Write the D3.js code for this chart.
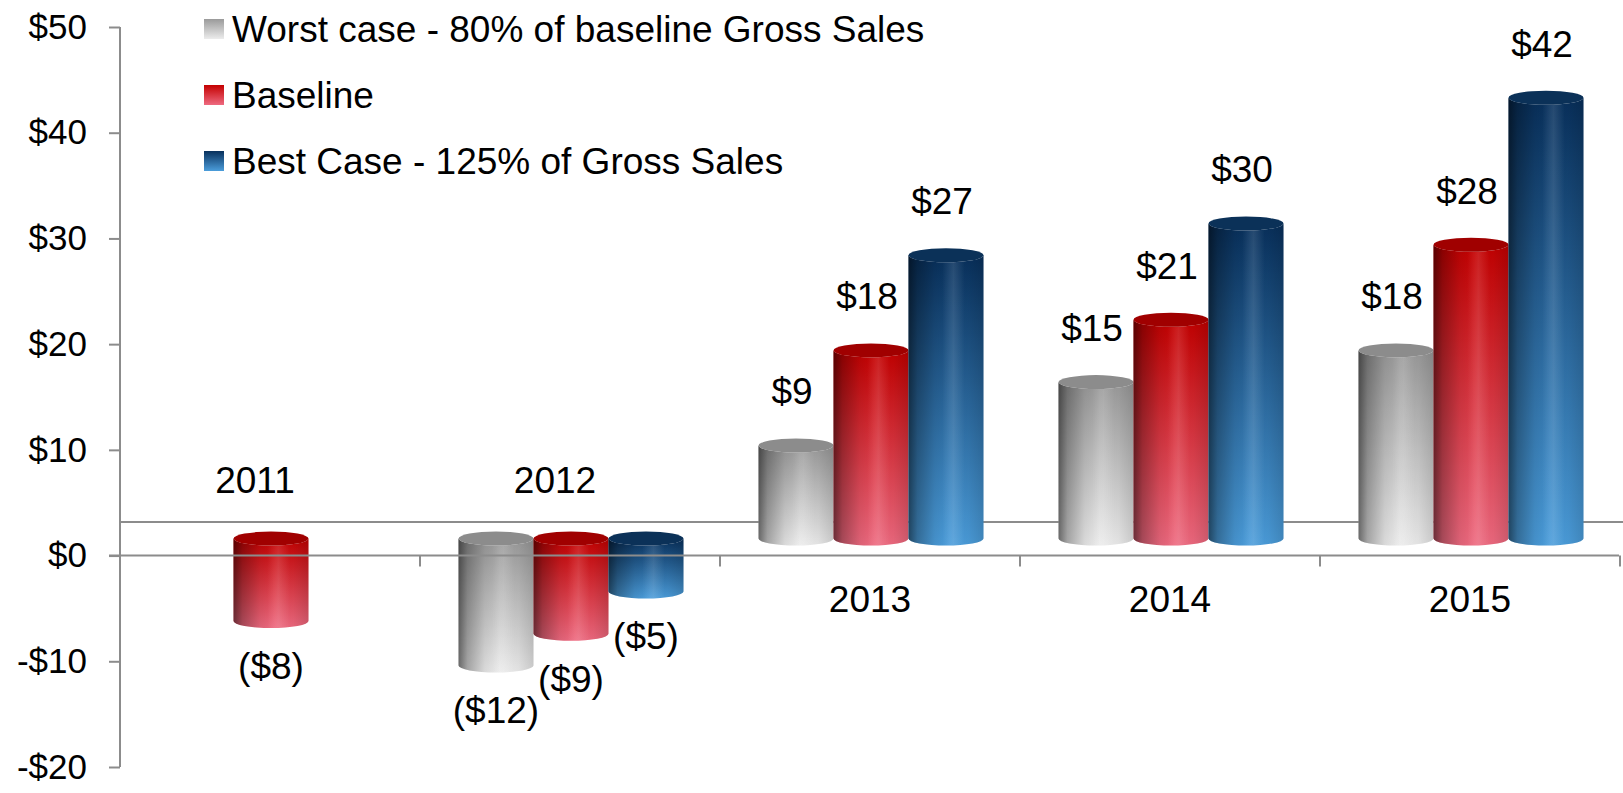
<!DOCTYPE html>
<html>
<head>
<meta charset="utf-8">
<script src="https://cdn.jsdelivr.net/npm/d3@7"></script>
<style>
  body { margin: 0; background: #fff; }
  svg { display: block; font-family: "Liberation Sans", Arial, sans-serif; }
</style>
</head>
<body>
<svg id="chart" width="1623" height="793"></svg>
<script>
// chart data
var categories = ["2011", "2012", "2013", "2014", "2015"];
var seriesNames = ["Worst case - 80% of baseline Gross Sales", "Baseline", "Best Case - 125% of Gross Sales"];
var worstCase = [null, -12.0, 8.8, 14.8, 17.8];
var baseline = [-7.8, -9.0, 17.8, 20.7, 27.8];
var bestCase = [null, -5.0, 26.8, 29.8, 41.7];
var yTicks = [-20, -10, 0, 10, 20, 30, 40, 50];

var seriesValues = [worstCase, baseline, bestCase];

// colours: body top, body bottom, cap
var palette = [
  { top: "#9a9a9a", bottom: "#ececec", cap: "#8c8c8c" },
  { top: "#c40000", bottom: "#ee6a80", cap: "#a00000" },
  { top: "#08305c", bottom: "#4b9ddb", cap: "#0b3158" }
];

var svg = d3.select("#chart");
var defs = svg.append("defs");

var y = d3.scaleLinear().domain([-20, 50]).range([767, 27]);
var x = d3.scaleBand().domain(categories).range([120, 1620]);
var x1 = d3.scaleBand().domain(d3.range(3)).range([0, x.bandwidth()]).paddingOuter(0.5);

var depth = 17;   // bars sit in the middle of the 3D floor
var ry = 7;
var labelSize = 37;
function barY(v) { return y(v) - depth; }

// gradients
palette.forEach(function(p, i) {
  var v = defs.append("linearGradient").attr("id", "body" + i)
      .attr("x1", 0).attr("y1", 0).attr("x2", 0).attr("y2", 1);
  v.append("stop").attr("offset", "0%").attr("stop-color", p.top);
  v.append("stop").attr("offset", "100%").attr("stop-color", p.bottom);
});

var shade = defs.append("linearGradient").attr("id", "shade")
    .attr("x1", 0).attr("y1", 0).attr("x2", 1).attr("y2", 0);
[[0, 0.55], [0.12, 0.3], [0.35, 0.08], [0.55, 0], [0.8, 0.04], [1, 0.14]].forEach(function(s) {
  shade.append("stop").attr("offset", s[0]).attr("stop-color", "#000").attr("stop-opacity", s[1]);
});
var shine = defs.append("linearGradient").attr("id", "shine")
    .attr("x1", 0).attr("y1", 0).attr("x2", 1).attr("y2", 0);
[[0, 0], [0.45, 0], [0.6, 0.12], [0.75, 0]].forEach(function(s) {
  shine.append("stop").attr("offset", s[0]).attr("stop-color", "#fff").attr("stop-opacity", s[1]);
});

var axisColor = "#8c8c8c";

// floor back edge
svg.append("line")
    .attr("x1", 120).attr("x2", 1623)
    .attr("y1", y(0) - 2 * depth + 0.5).attr("y2", y(0) - 2 * depth + 0.5)
    .attr("stroke", axisColor).attr("stroke-width", 2);

// y axis
var yAxis = d3.axisLeft(y).tickValues(yTicks).tickSize(11).tickPadding(22)
    .tickFormat(function(d) { return d < 0 ? "-$" + Math.abs(d) : "$" + d; });
var gy = svg.append("g").attr("transform", "translate(120,0)").call(yAxis);
gy.select(".domain").attr("stroke", axisColor).attr("stroke-width", 2).attr("d", "M0," + y(50) + "V" + y(-20));
gy.selectAll(".tick line").attr("stroke", axisColor).attr("stroke-width", 2);
gy.selectAll(".tick text").attr("font-size", 35).attr("fill", "#000")
    .attr("font-family", "Liberation Sans, Arial, sans-serif");

// cylinders
function cylPath(x0, w, yTop, yBot) {
  var rx = w / 2;
  return "M" + x0 + "," + yTop + " L" + x0 + "," + yBot +
    " A" + rx + "," + ry + " 0 0 0 " + (x0 + w) + "," + yBot +
    " L" + (x0 + w) + "," + yTop +
    " A" + rx + "," + ry + " 0 0 1 " + x0 + "," + yTop + " Z";
}

var bars = [];
categories.forEach(function(c, ci) {
  seriesValues.forEach(function(vals, si) {
    if (vals[ci] !== null) bars.push({ cat: c, s: si, v: vals[ci] });
  });
});

var w = x1.bandwidth();
var gBars = svg.append("g");
var bar = gBars.selectAll("g.bar").data(bars).enter().append("g").attr("class", "bar");

bar.each(function(d) {
  var g = d3.select(this);
  var x0 = x(d.cat) + x1(d.s) + 1;
  var yTop = barY(Math.max(0, d.v));
  var yBot = barY(Math.min(0, d.v));
  var path = cylPath(x0, w, yTop, yBot);
  g.append("path").attr("d", path).attr("fill", "url(#body" + d.s + ")");
  g.append("path").attr("d", path).attr("fill", "url(#shade)");
  g.append("path").attr("d", path).attr("fill", "url(#shine)");
  g.append("ellipse").attr("cx", x0 + w / 2).attr("cy", yTop)
      .attr("rx", w / 2).attr("ry", ry).attr("fill", palette[d.s].cap);
});

// zero line and category ticks, drawn over the bars
svg.append("line")
    .attr("x1", 109).attr("x2", 1619)
    .attr("y1", y(0)).attr("y2", y(0))
    .attr("stroke", axisColor).attr("stroke-width", 2);
svg.selectAll("line.ctick").data(categories).enter().append("line").attr("class", "ctick")
    .attr("x1", function(d) { return x(d) + x.bandwidth(); })
    .attr("x2", function(d) { return x(d) + x.bandwidth(); })
    .attr("y1", y(0)).attr("y2", y(0) + 11)
    .attr("stroke", axisColor).attr("stroke-width", 2);

// category labels: above the floor when the year is negative
function isNeg(i) {
  return seriesValues.some(function(s) { return s[i] !== null && s[i] < 0; });
}
svg.selectAll("text.cat").data(categories).enter().append("text").attr("class", "cat")
    .attr("x", function(d, i) { return x(d) + x.bandwidth() / 2 + (isNeg(i) ? -15 : 0); })
    .attr("y", function(d, i) { return isNeg(i) ? 480 : 599; })
    .attr("dy", "0.35em")
    .attr("text-anchor", "middle").attr("font-size", labelSize).attr("fill", "#000")
    .text(function(d) { return d; });

// value labels
function fmt(v) {
  var r = Math.round(Math.abs(v));
  return v < 0 ? "($" + r + ")" : "$" + r;
}
svg.selectAll("text.val").data(bars).enter().append("text").attr("class", "val")
    .attr("x", function(d) { return x(d.cat) + x1(d.s) + 1 + w / 2 + (d.v < 0 ? 0 : -4); })
    .attr("y", function(d) { return d.v < 0 ? barY(d.v) + ry + 38 : barY(d.v) - ry - 47; })
    .attr("dy", "0.35em")
    .attr("text-anchor", "middle").attr("font-size", labelSize).attr("fill", "#000")
    .text(function(d) { return fmt(d.v); });

// legend
var legend = svg.selectAll("g.legend").data(seriesNames).enter().append("g").attr("class", "legend")
    .attr("transform", function(d, i) { return "translate(204," + (29 + i * 66) + ")"; });
legend.append("rect").attr("x", 0).attr("y", -10).attr("width", 20).attr("height", 20)
    .attr("fill", function(d, i) { return "url(#body" + i + ")"; });
legend.append("text").attr("x", 28).attr("dy", "0.35em")
    .attr("font-size", labelSize).attr("fill", "#000")
    .text(function(d) { return d; });
</script>
</body>
</html>
